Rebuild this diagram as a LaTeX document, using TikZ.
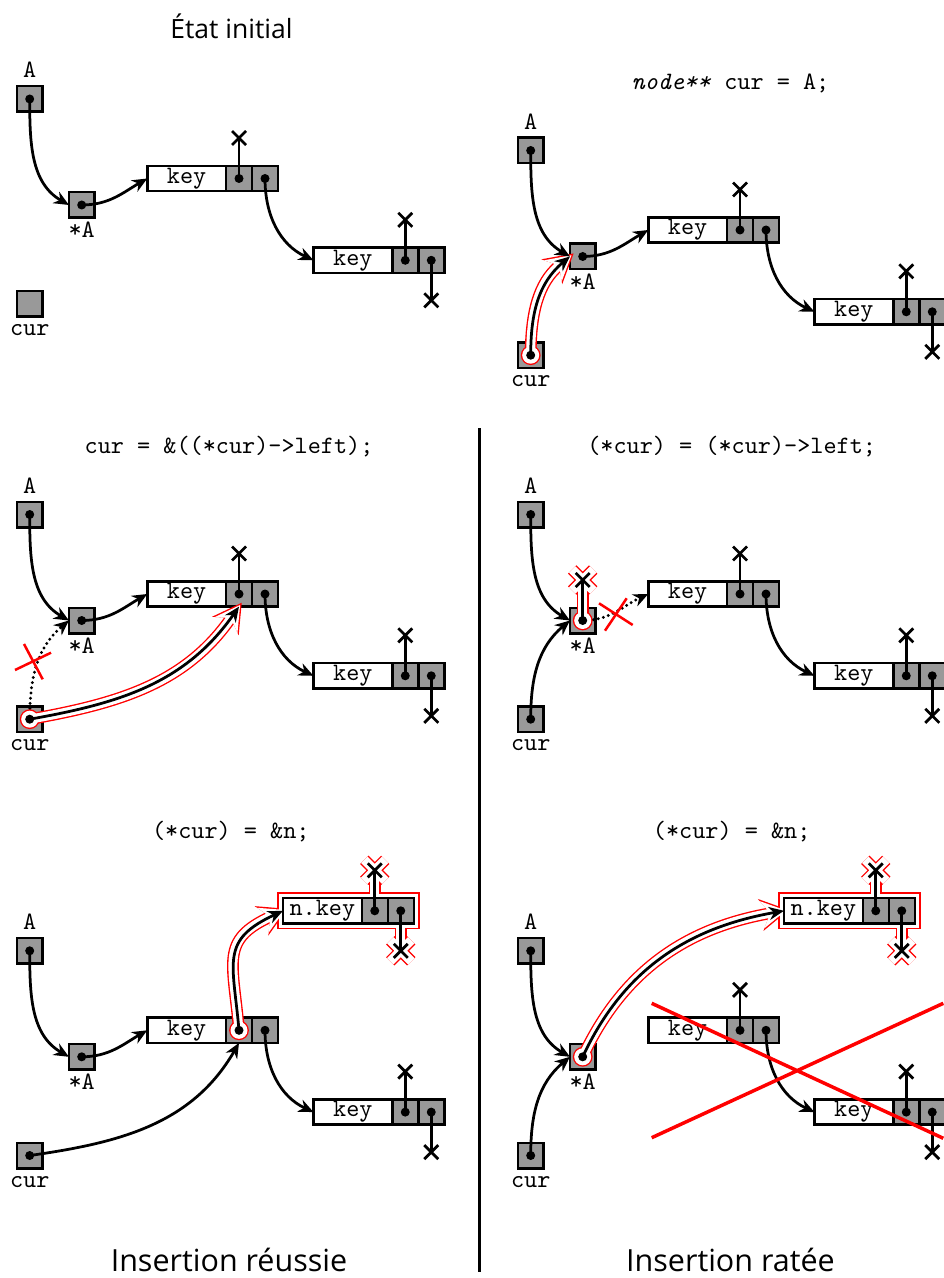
\documentclass[tikz,border=0pt]{standalone}
\usepackage{fontspec}
\newfontfamily\capfont{Open Sans}
\usetikzlibrary{arrows.meta}
\pgfdeclarelayer{glow}
\pgfdeclarelayer{top}
\pgfsetlayers{main,glow,top}
\definecolor{cellgray}{gray}{0.6}
\tikzset{
  ptr/.style={draw, fill=cellgray, line width=1pt, minimum width=10.2pt, minimum height=10.2pt, inner sep=0pt, outer sep=0pt},
  keyb/.style={draw, fill=white, line width=1pt, minimum width=31.5pt, minimum height=10.1pt, inner sep=0pt, outer sep=0pt, font=\ttfamily},
  cellb/.style={draw, fill=cellgray, line width=1pt, minimum width=10.4pt, minimum height=10.1pt, inner sep=0pt, outer sep=0pt},
  lbl/.style={font=\ttfamily, inner sep=0pt},
  ttl/.style={font=\ttfamily, inner sep=0pt, anchor=base},
  captext/.style={font=\capfont\fontsize{12.2}{14}\selectfont, inner sep=0pt, anchor=base},
  captitle/.style={font=\capfont\fontsize{10.6}{12}\selectfont, inner sep=0pt, anchor=base},
  arr/.style={line width=1.1pt, -{Stealth[length=6pt,width=5.2pt]}},
  dotarr/.style={arr, line width=1.3pt, dash pattern=on 0pt off 2.1pt, line cap=round},
  nl/.style={line width=1.1pt},
  redx/.style={red, line width=1pt},
  glowa/.style={red, line width=4.7pt},
  glowb/.style={white, line width=3.6pt},
  gtipa/.style={-{Stealth[length=11.4pt,width=13pt,inset=3.9pt,line width=0pt]}, shorten >=-1.9pt},
  gtipb/.style={-{Stealth[length=9.8pt,width=11.1pt,inset=3.4pt,line width=0pt]}, shorten >=-0.8pt},
}
\newcommand\ptrnode[3]{\node[ptr] (#1) at (#2) {};\ifnum#3=1 \fill (#1.center) circle[radius=1.8pt];\fi}
\newcommand\lnode[3]{%
  \node[keyb, anchor=west] (#1) at (#2) {#3};
  \node[cellb, anchor=west] (#1l) at (#1.east) {};
  \node[cellb, anchor=west] (#1r) at (#1l.east) {};
  \coordinate (#1up) at ([yshift=16.2pt]#1l.center);
  \coordinate (#1dn) at ([yshift=-16pt]#1r.center);
  \fill (#1l.center) circle[radius=1.8pt] (#1r.center) circle[radius=1.8pt];}
\newcommand\nullx[1]{\draw[nl] (#1) +(-2.8pt,-2.8pt) -- +(2.8pt,2.8pt) +(-2.8pt,2.8pt) -- +(2.8pt,-2.8pt);}
\newcommand\nullptr[2]{\draw[nl] (#1.center) -- (#2);\nullx{#2}}
\newcommand\gcirc[2]{\if#1a\fill[red] (#2) circle[radius=3.95pt];\else\fill[white] (#2) circle[radius=3.4pt];\fi}
\newcommand\garrow[4]{\gcirc{#1}{#2}\draw[glow#1, gtip#1] (#2) to[#3] (#4);}
\newcommand\gline[3]{\draw[glow#1] (#2) -- (#3);
  \draw[glow#1] (#3) +(-4.2pt,-4.2pt) -- +(4.2pt,4.2pt) +(-4.2pt,4.2pt) -- +(4.2pt,-4.2pt);}
\newcommand\grect[3]{\draw[glow#1] (#2) rectangle (#3);}
\newcommand\basepanel[4]{%
  \ptrnode{#1A}{29.7,-99}{1}
  \node[lbl] (#1Al) at (29.7,-70) {A};
  \ptrnode{#1S}{81.7,-205}{1}
  \node[lbl] (#1Sl) at (81.7,-230) {*A};
  \ptrnode{#1C}{29.7,-303.7}{#2}
  \node[lbl] (#1Cl) at (29.7,-330) {cur};
  \lnode{#1a}{147.25,-178.5}{key}
  \lnode{#1b}{313.5,-260.3}{key}
  \ifnum#3=1 \nullptr{#1al}{#1aup}\fi
  \nullptr{#1bl}{#1bup}
  \nullptr{#1br}{#1bdn}
  \draw[arr] (#1ar.center) to[out=-90,in=155] (#1b.west);
  \ifnum#4=1 \draw[arr] (#1A.center) to[out=-90,in=150] (#1S.west);\fi
}
\begin{document}
\begin{tikzpicture}[x=0.4pt,y=0.4pt]
\useasboundingbox (0,0) rectangle (944,-1278);
\clip (0,0) rectangle (944,-1278);
% ---------- panel 1
\begin{scope}
\basepanel{a}{0}{1}{1}
\draw[arr] (aS.center) to[out=0,in=210] (aa.west);
\node[captitle] (atitle) at (231.5,-38.3) {État initial};
\end{scope}
% ---------- panel 2
\begin{scope}[shift={(501,-51.5)}]
\basepanel{b}{1}{1}{0}
\draw[arr] (bS.center) to[out=0,in=210] (ba.west);
\node[ttl] (btitle) at (229.5,-37.8) {\textit{node**} cur = A;};
\begin{pgfonlayer}{glow}
\garrow{a}{bC.center}{out=90,in=-140}{bS.west}
\garrow{b}{bC.center}{out=90,in=-140}{bS.west}
\end{pgfonlayer}
\begin{pgfonlayer}{top}
\draw[arr] (bC.center) to[out=90,in=-140] (bS.west);
\fill (bC.center) circle[radius=1.8pt];
\draw[arr] (bA.center) to[out=-90,in=150] (bS.west);
\end{pgfonlayer}
\end{scope}
% ---------- panel 3
\begin{scope}[shift={(0,-415.5)}]
\basepanel{c}{1}{1}{1}
\draw[arr] (cS.center) to[out=0,in=210] (ca.west);
\draw[dotarr] (cC.center) to[out=90,in=-140] (cS.west);
\draw[redx] (24,-228.5) -- (42.7,-263.8) (15,-254.5) -- (51,-237.2);
\node[ttl] (ctitle) at (229,-37.8) {cur = \&((*cur)->left);};
\begin{pgfonlayer}{glow}
\garrow{a}{cC.center}{out=10,in=-125}{cal.south}
\garrow{b}{cC.center}{out=10,in=-125}{cal.south}
\end{pgfonlayer}
\begin{pgfonlayer}{top}
\draw[arr] (cC.center) to[out=10,in=-125] (cal.south);
\fill (cC.center) circle[radius=1.8pt];
\end{pgfonlayer}
\end{scope}
% ---------- panel 4
\begin{scope}[shift={(501,-415.5)}]
\basepanel{d}{1}{1}{1}
\draw[arr] (dC.center) to[out=90,in=-140] (dS.west);
\draw[dotarr] (dS.center) to[out=0,in=205] (da.west);
\coordinate (dSup) at ([yshift=16.2pt]dS.center);
\draw[redx] (98,-187.8) -- (131.7,-209.5) (104,-215.2) -- (125.7,-182.8);
\node[ttl] (dtitle) at (230.7,-37.8) {(*cur) = (*cur)->left;};
\begin{pgfonlayer}{glow}
\gcirc{a}{dS.center}\gline{a}{dS.center}{dSup}
\gcirc{b}{dS.center}\gline{b}{dS.center}{dSup}
\end{pgfonlayer}
\begin{pgfonlayer}{top}
\nullptr{dS}{dSup}
\fill (dS.center) circle[radius=1.8pt];
\end{pgfonlayer}
\end{scope}
% ---------- panel 5
\begin{scope}[shift={(0,-851.8)}]
\basepanel{e}{1}{0}{1}
\draw[arr] (eS.center) to[out=0,in=210] (ea.west);
\draw[arr] (eC.center) to[out=8,in=-120] (eal.south);
\node[ttl] (etitle) at (230.8,13.5) {(*cur) = \&n;};
\begin{pgfonlayer}{top}
\lnode{en}{283,-59}{n.key}
\nullptr{enl}{enup}
\nullptr{enr}{endn}
\draw[arr] (eal.center) to[out=95,in=205,looseness=1.4] (en.west);
\fill (eal.center) circle[radius=1.8pt];
\end{pgfonlayer}
\begin{pgfonlayer}{glow}
\grect{a}{en.north west}{enr.south east}
\gline{a}{enl.center}{enup}\gline{a}{enr.center}{endn}
\garrow{a}{eal.center}{out=95,in=205,looseness=1.4}{en.west}
\grect{b}{en.north west}{enr.south east}
\gline{b}{enl.center}{enup}\gline{b}{enr.center}{endn}
\garrow{b}{eal.center}{out=95,in=205,looseness=1.4}{en.west}
\end{pgfonlayer}
\end{scope}
% ---------- panel 6
\begin{scope}[shift={(501,-851.8)}]
\basepanel{f}{1}{1}{1}
\draw[arr] (fC.center) to[out=90,in=-140] (fS.west);
\node[ttl] (ftitle) at (230.7,13.5) {(*cur) = \&n;};
\begin{pgfonlayer}{top}
\lnode{fn}{283,-59}{n.key}
\nullptr{fnl}{fnup}
\nullptr{fnr}{fndn}
\draw[arr] (fS.center) to[out=65,in=190] (fn.west);
\fill (fS.center) circle[radius=1.8pt];
\end{pgfonlayer}
\begin{pgfonlayer}{glow}
\grect{a}{fn.north west}{fnr.south east}
\gline{a}{fnl.center}{fnup}\gline{a}{fnr.center}{fndn}
\garrow{a}{fS.center}{out=65,in=190}{fn.west}
\grect{b}{fn.north west}{fnr.south east}
\gline{b}{fnl.center}{fnup}\gline{b}{fnr.center}{fndn}
\garrow{b}{fS.center}{out=65,in=190}{fn.west}
\end{pgfonlayer}
\draw[red, line width=1.4pt] (150.7,-151.5) -- (442.3,-286.5) (150.7,-285.9) -- (442.3,-151.5);
\end{scope}
% ---------- divider and captions
\draw[line width=1.5pt] (479.5,-428) -- (479.5,-1272);
\node[captext] (capl) at (229,-1271.5) {Insertion réussie};
\node[captext] (capr) at (730.5,-1271.5) {Insertion ratée};
\end{tikzpicture}
\end{document}
